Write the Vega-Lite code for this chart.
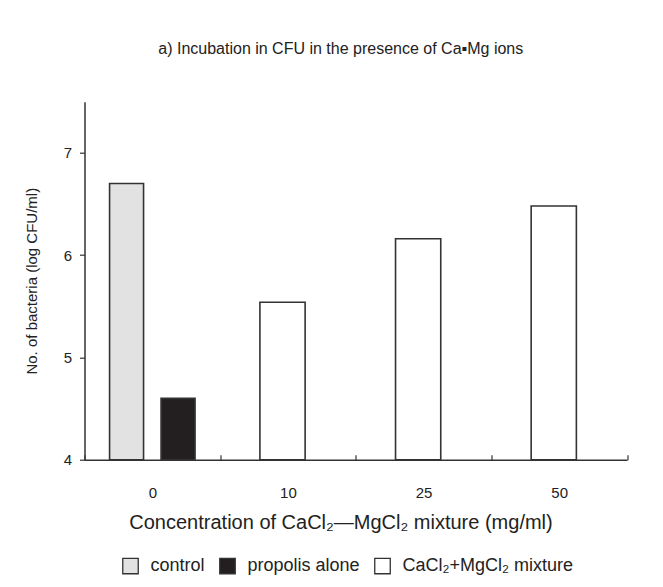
{
  "$schema": "https://vega.github.io/schema/vega-lite/v6.json",
  "width": 542.5,
  "height": 358,
  "autosize": "none",
  "padding": {"left": 84.5, "top": 101.7, "right": 36, "bottom": 127.3},
  "background": "white",
  "config": {
    "font": "Liberation Sans",
    "view": {"stroke": null},
    "axis": {"grid": false, "domainColor": "#333", "domainWidth": 1.5, "tickColor": "#333", "tickWidth": 1.2, "labelColor": "#222", "titleColor": "#222", "titleFontWeight": "normal"}
  },
  "title": {
    "text": "a) Incubation in CFU in the presence of Ca▪Mg ions",
    "fontSize": 16,
    "fontWeight": "normal",
    "color": "#222",
    "offset": 45,
    "dx": -15
  },
  "data": {
    "values": [
      {"conc": "0", "series": "control", "value": 6.70},
      {"conc": "0", "series": "propolis alone", "value": 4.60},
      {"conc": "10", "series": "CaCl₂+MgCl₂ mixture", "value": 5.54},
      {"conc": "25", "series": "CaCl₂+MgCl₂ mixture", "value": 6.16},
      {"conc": "50", "series": "CaCl₂+MgCl₂ mixture", "value": 6.48}
    ]
  },
  "encoding": {
    "x": {
      "field": "conc",
      "type": "nominal",
      "sort": ["0", "10", "25", "50"],
      "scale": {"domain": ["0", "10", "25", "50"], "paddingInner": 0, "paddingOuter": 0},
      "axis": {
        "title": "Concentration of CaCl₂—MgCl₂ mixture (mg/ml)",
        "titleFontSize": 20,
        "titlePadding": 12,
        "titleX": 256,
        "labelAngle": 0,
        "labelFontSize": 15,
        "labelPadding": 31,
        "tickBand": "extent",
        "tickSize": -5
      }
    },
    "y": {
      "field": "value",
      "type": "quantitative",
      "scale": {"domain": [4, 7.5], "nice": false, "zero": false},
      "axis": {
        "title": "No. of bacteria (log CFU/ml)",
        "titleFontSize": 15,
        "titlePadding": 24,
        "values": [4, 5, 6, 7],
        "labelFontSize": 15,
        "labelPadding": 8,
        "tickSize": 5
      }
    },
    "y2": {"datum": 4},
    "fill": {
      "field": "series",
      "type": "nominal",
      "scale": {
        "domain": ["control", "propolis alone", "CaCl₂+MgCl₂ mixture"],
        "range": ["#e2e2e2", "#231f20", "#ffffff"]
      },
      "legend": {
        "title": null,
        "orient": "none",
        "direction": "horizontal",
        "legendX": 37,
        "legendY": 455,
        "symbolType": "square",
        "symbolSize": 240,
        "symbolStrokeColor": "#333",
        "symbolStrokeWidth": 1.3,
        "symbolOpacity": 1,
        "labelFontSize": 18,
        "labelLimit": 400,
        "labelColor": "#222",
        "labelOffset": 11,
        "columnPadding": 11
      }
    }
  },
  "layer": [
    {
      "transform": [{"filter": "datum.conc == '0'"}],
      "mark": {"type": "bar", "stroke": "#333", "strokeWidth": 1.6},
      "encoding": {
        "xOffset": {
          "field": "series",
          "type": "nominal",
          "scale": {"domain": ["control", "propolis alone"], "paddingInner": 0.34, "paddingOuter": 0.487}
        }
      }
    },
    {
      "transform": [{"filter": "datum.conc != '0'"}],
      "mark": {"type": "bar", "stroke": "#333", "strokeWidth": 1.6},
      "encoding": {
        "xOffset": {
          "field": "series",
          "type": "nominal",
          "scale": {"domain": ["CaCl₂+MgCl₂ mixture"], "paddingInner": 0, "paddingOuter": 1.256, "align": 0.44}
        }
      }
    }
  ],
  "resolve": {"scale": {"xOffset": "independent"}}
}
